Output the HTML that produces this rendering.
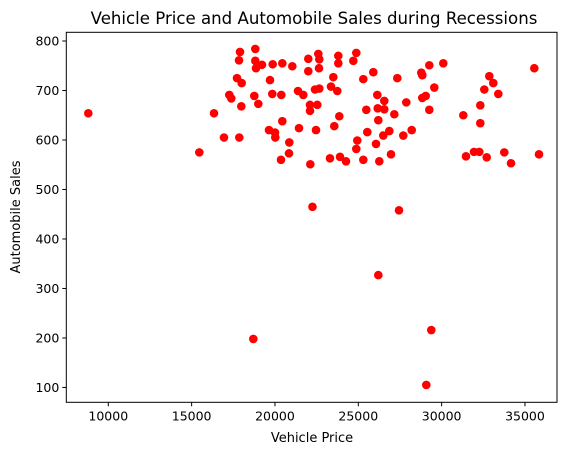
<!DOCTYPE html>
<html><head><meta charset="utf-8">
<style>
html,body{margin:0;padding:0;background:#fff;}
svg{display:block;font-family:"DejaVu Sans","Liberation Sans",sans-serif;}
</style></head>
<body>
<svg id="chart" width="571" height="455" viewBox="0 0 571 455" xmlns="http://www.w3.org/2000/svg">
<rect x="0" y="0" width="571" height="455" fill="#fff"/>
<text x="314" y="24" text-anchor="middle" font-size="16.6" fill="#000">Vehicle Price and Automobile Sales during Recessions</text>
<text x="312" y="442" text-anchor="middle" font-size="13" fill="#000">Vehicle Price</text>
<text transform="translate(20,217) rotate(-90)" text-anchor="middle" font-size="13" fill="#000">Automobile Sales</text>
<g id="marks"></g>
<g id="axes"></g>
</svg>
<script>
const prices = [8800,16342,15460,16942,17860,17902,17842,18820,18820,18862,19222,19864,20440,21040,17722,18004,19702,17260,17380,17980,18760,19000,19840,20380,21382,21700,22102,22102,20440,19642,20002,20020,21442,20860,20842,20362,22120,22000,22600,22660,22000,22642,23800,23800,24880,24700,23500,25300,25900,27340,28780,28840,29260,30100,35560,32860,33100,32560,33400,22402,22660,23362,23740,26140,26560,27880,28840,29044,29560,22540,25480,26164,26560,27160,29260,31300,32320,32320,23860,26200,22462,23560,25540,26500,26860,27700,28204,24940,24880,26062,23302,23902,24262,25300,26260,26962,31462,31942,32260,32704,33760,34162,35842,22250,27442,26200,29380,29080,18700];
const sales = [654,654,575,605,605,778,761,784,760,745,752,753,755,749,725,715,721,691,684,668,689,673,693,691,699,691,671,659,638,620,615,605,624,595,573,560,551,764,774,763,739,745,770,755,776,760,727,723,737,725,736,731,751,755,745,729,715,702,693,702,704,708,699,691,679,676,685,689,706,671,661,664,662,652,661,650,670,634,648,640,620,628,616,609,618,609,620,599,582,592,563,566,557,560,557,571,567,576,576,565,575,553,571,465,458,327,216,105,198];
const xTicks = [10000,15000,20000,25000,30000,35000];
const yTicks = [100,200,300,400,500,600,700,800];

const L=66.3, R=557, T=32.3, B=402.3;
const xMin=7480, xMax=36922, yMin=70, yMax=817.6;
const sx = v => L + (v - xMin) / (xMax - xMin) * (R - L);
const sy = v => B - (v - yMin) / (yMax - yMin) * (B - T);
const NS="http://www.w3.org/2000/svg";
const marks=document.getElementById('marks');
for(let i=0;i<prices.length;i++){
  const c=document.createElementNS(NS,'circle');
  c.setAttribute('cx',sx(prices[i]));
  c.setAttribute('cy',sy(sales[i]));
  c.setAttribute('r',4.3);
  c.setAttribute('fill','#ff0000');
  
  
  marks.appendChild(c);
}
const axes=document.getElementById('axes');
const frame=document.createElementNS(NS,'rect');
frame.setAttribute('x',L);frame.setAttribute('y',T);
frame.setAttribute('width',R-L);frame.setAttribute('height',B-T);
frame.setAttribute('fill','none');frame.setAttribute('stroke','#000');frame.setAttribute('stroke-width','1');


axes.appendChild(frame);
xTicks.forEach(t=>{
  const x=sx(t);
  const ln=document.createElementNS(NS,'line');
  ln.setAttribute('x1',x);ln.setAttribute('x2',x);ln.setAttribute('y1',B);ln.setAttribute('y2',B+4);
  ln.setAttribute('stroke','#000');
  
  
  axes.appendChild(ln);
  const tx=document.createElementNS(NS,'text');
  tx.setAttribute('x',x);tx.setAttribute('y',B+18);tx.setAttribute('text-anchor','middle');
  tx.setAttribute('font-size','12.5');
  tx.textContent=t;
  
  
  axes.appendChild(tx);
});
yTicks.forEach(t=>{
  const y=sy(t);
  const ln=document.createElementNS(NS,'line');
  ln.setAttribute('x1',L-4);ln.setAttribute('x2',L);ln.setAttribute('y1',y);ln.setAttribute('y2',y);
  ln.setAttribute('stroke','#000');
  
  
  axes.appendChild(ln);
  const tx=document.createElementNS(NS,'text');
  tx.setAttribute('x',L-7);tx.setAttribute('y',y+4.5);tx.setAttribute('text-anchor','end');
  tx.setAttribute('font-size','12.5');
  tx.textContent=t;
  
  
  axes.appendChild(tx);
});
</script>
</body></html>
